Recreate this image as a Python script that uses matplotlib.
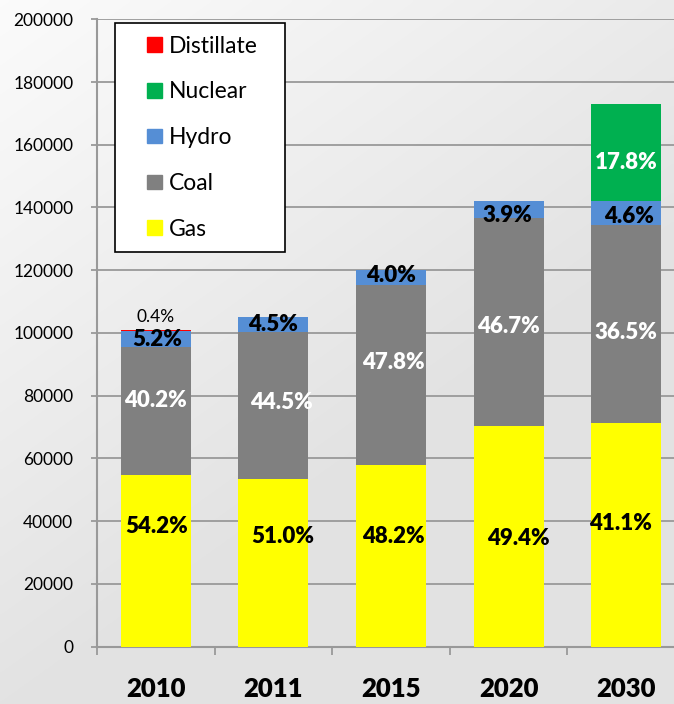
import numpy as np
import matplotlib
matplotlib.use("Agg")
import matplotlib.pyplot as plt
from matplotlib.patches import Rectangle
from matplotlib.legend_handler import HandlerPatch

plt.rcParams['font.family'] = ['Lato', 'DejaVu Sans']

# ---------------- data ----------------
years = ["2010", "2011", "2015", "2020", "2030"]
gas = [54800, 53400, 57800, 70200, 71300]
coal = [40700, 46800, 57600, 66500, 63000]
hydro = [5000, 4900, 4600, 5500, 7700]
nuclear = [0, 0, 0, 0, 30900]
distillate = [400, 0, 0, 0, 0]

gas_pct = ["54.2%", "51.0%", "48.2%", "49.4%", "41.1%"]
coal_pct = ["40.2%", "44.5%", "47.8%", "46.7%", "36.5%"]
hydro_pct = ["5.2%", "4.5%", "4.0%", "3.9%", "4.6%"]
nuclear_pct = ["", "", "", "", "17.8%"]
distillate_pct = ["0.4%", "", "", "", ""]

y_ticks = [0, 20000, 40000, 60000, 80000, 100000, 120000, 140000, 160000, 180000, 200000]

# ---------------- style / layout ----------------
colors = {"Gas": "#ffff00", "Coal": "#808080", "Hydro": "#558ed5",
          "Nuclear": "#00b050", "Distillate": "#ff0000"}
# label placement within each segment (fraction of segment height, x offset)
gas_frac = [0.70, 0.66, 0.61, 0.49, 0.55]
gas_dx = [0.01, 0.08, 0.02, 0.08, -0.05]
coal_frac = [0.58, 0.52, 0.57, 0.48, 0.46]
coal_dx = [0.0, 0.07, 0.02, 0.0, 0.0]
hydro_frac = [0.5, 0.5, 0.62, 0.15, 0.35]
hydro_dx = [0.01, 0.0, 0.0, -0.01, 0.02]
nuclear_frac = [0, 0, 0, 0, 0.4]
label_weight = 'heavy'

W, H = 674, 704
fig = plt.figure(figsize=(W / 100, H / 100), dpi=100)

# gradient background
bg = fig.add_axes([0, 0, 1, 1], zorder=-10)
xx, yy = np.meshgrid(np.linspace(0, 1, 200), np.linspace(1, 0, 200))
v = np.clip(0.985 - 0.065 * xx - 0.095 * (1 - yy), 0.89, 1)
bg.imshow(np.dstack([v, v, v]), aspect='auto', extent=[0, 1, 0, 1],
          interpolation='bilinear')
bg.axis('off')

ax_left, ax_right = 97, 685
ax_bottom_px, ax_top_px = 646.6, 19.3
ax = fig.add_axes([ax_left / W, (H - ax_bottom_px) / H,
                   (ax_right - ax_left) / W, (ax_bottom_px - ax_top_px) / H])
ax.set_facecolor('none')

x = np.arange(len(years))
bw = 0.595
series = [("Gas", gas), ("Coal", coal), ("Hydro", hydro),
          ("Nuclear", nuclear), ("Distillate", distillate)]
bottom = np.zeros(len(years))
bottoms = {}
for name, vals in series:
    vals = np.array(vals, dtype=float)
    bottoms[name] = bottom.copy()
    ax.bar(x, vals, bw, bottom=bottom, color=colors[name], edgecolor='none',
           zorder=3, label=name)
    bottom = bottom + vals

ax.set_xlim(-0.5, len(years) - 0.5)
ax.set_ylim(0, 200000)
ax.set_yticks(y_ticks)
ax.set_yticklabels([str(t) for t in y_ticks])
ax.yaxis.grid(True, color='#999999', linewidth=1.3, zorder=0)
ax.set_axisbelow(True)

# x ticks at category boundaries, labels at centers
ax.set_xticks(np.arange(len(years)) - 0.5)
ax.set_xticklabels([])
ax.set_xticks(x, minor=True)
ax.set_xticklabels(years, minor=True, fontsize=18.5, fontweight=label_weight)
ax.tick_params(axis='x', which='major', length=6, width=1.3, color='#999999', direction='out')
ax.tick_params(axis='x', which='minor', length=0, pad=22)
ax.tick_params(axis='y', length=4, width=1.3, color='#999999', pad=13,
               labelsize=12.5, labelcolor='#000000')

for s in ['top', 'right']:
    ax.spines[s].set_visible(False)
for s in ['left', 'bottom']:
    ax.spines[s].set_color('#999999')
    ax.spines[s].set_linewidth(1.5)

# percentage labels
fs = 16
for i in range(len(years)):
    g0, gv = bottoms["Gas"][i], gas[i]
    ax.text(x[i] + gas_dx[i], g0 + gas_frac[i] * gv, gas_pct[i], ha='center', va='center',
            fontsize=fs, fontweight=label_weight, color='black', zorder=5)
    c0, cv = bottoms["Coal"][i], coal[i]
    ax.text(x[i] + coal_dx[i], c0 + coal_frac[i] * cv, coal_pct[i], ha='center', va='center',
            fontsize=fs, fontweight=label_weight, color='white', zorder=5)
    h0, hv = bottoms["Hydro"][i], hydro[i]
    ax.text(x[i] + hydro_dx[i], h0 + hydro_frac[i] * hv, hydro_pct[i], ha='center', va='center',
            fontsize=fs, fontweight=label_weight, color='black', zorder=5)
    if nuclear[i] > 0:
        n0, nv = bottoms["Nuclear"][i], nuclear[i]
        ax.text(x[i], n0 + nuclear_frac[i] * nv, nuclear_pct[i], ha='center', va='center',
                fontsize=fs, fontweight=label_weight, color='white', zorder=5)
    if distillate[i] > 0:
        top = bottoms["Distillate"][i] + distillate[i]
        ax.text(x[i], top + 4200, distillate_pct[i], ha='center', va='center',
                fontsize=12.5, color='black', zorder=5)


# legend with square handles set to the right of a wider handle box
def square_patch(legend, orig_handle, xdescent, ydescent, width, height, fontsize):
    s = 0.64 * fontsize
    return Rectangle((width - s - xdescent, (height - s) / 2 - ydescent), s, s)


order = ["Distillate", "Nuclear", "Hydro", "Coal", "Gas"]
handles = [Rectangle((0, 0), 1, 1, color=colors[n]) for n in order]
leg = ax.legend(handles, order, loc='upper left',
                bbox_to_anchor=(18 / 588, 0.994, 170 / 588, 0.0), mode='expand',
                fontsize=16.5, frameon=True, fancybox=False, borderpad=0.55,
                labelspacing=1.08, handlelength=1.5, handleheight=0.64,
                handletextpad=0.3, borderaxespad=0,
                handler_map={Rectangle: HandlerPatch(patch_func=square_patch)})
leg.get_frame().set_edgecolor('black')
leg.get_frame().set_linewidth(1.2)
leg.get_frame().set_facecolor('white')
leg.get_frame().set_alpha(1)
leg.set_zorder(6)

fig.savefig("out.png", dpi=100)
